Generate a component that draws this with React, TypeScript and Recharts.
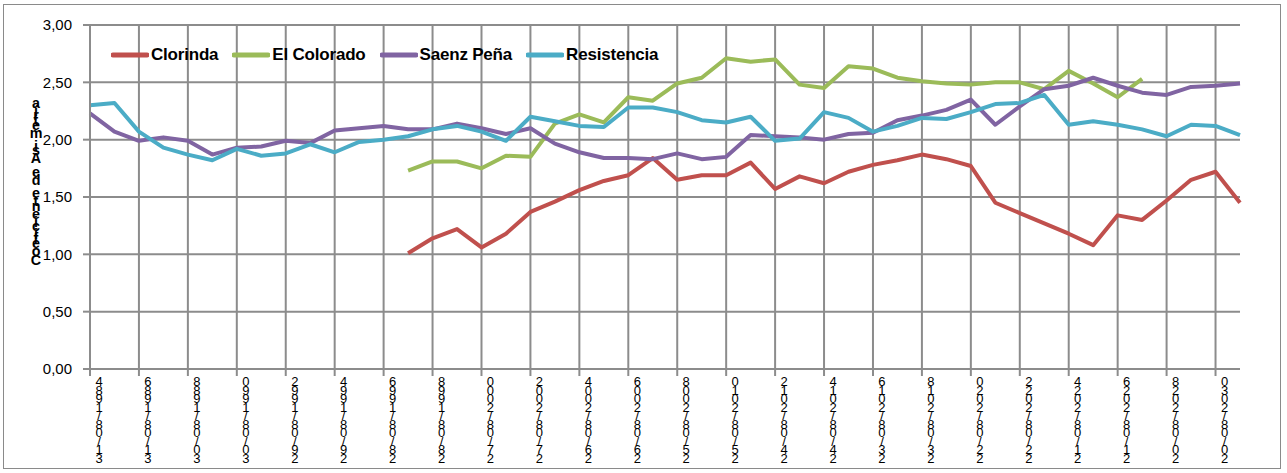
import React from 'react';
import { LineChart, Line, XAxis, YAxis, CartesianGrid, Legend } from 'recharts';

// fechas de medición (una por año)
const fechas = [
  '31/08/1984', '31/08/1985', '31/08/1986', '31/08/1987', '30/08/1988', '30/08/1989',
  '30/08/1990', '30/08/1991', '29/08/1992', '29/08/1993', '29/08/1994', '29/08/1995',
  '28/08/1996', '28/08/1997', '28/08/1998', '28/08/1999', '27/08/2000', '27/08/2001',
  '27/08/2002', '27/08/2003', '26/08/2004', '26/08/2005', '26/08/2006', '26/08/2007',
  '25/08/2008', '25/08/2009', '25/08/2010', '25/08/2011', '24/08/2012', '24/08/2013',
  '24/08/2014', '24/08/2015', '23/08/2016', '23/08/2017', '23/08/2018', '23/08/2019',
  '22/08/2020', '22/08/2021', '22/08/2022', '22/08/2023', '21/08/2024', '21/08/2025',
  '21/08/2026', '21/08/2027', '20/08/2028', '20/08/2029', '20/08/2030', '20/08/2031',
];

const N = null;

const clorinda = [
  N, N, N, N, N, N, N, N, N, N, N, N, N,
  1.01, 1.14, 1.22, 1.06, 1.18, 1.37, 1.46, 1.56, 1.64, 1.69,
  1.84, 1.65, 1.69, 1.69, 1.80, 1.57, 1.68, 1.62, 1.72, 1.78,
  1.82, 1.87, 1.83, 1.77, 1.45, 1.36, 1.27, 1.18, 1.08, 1.34,
  1.30, 1.47, 1.65, 1.72, 1.45,
];

const elColorado = [
  N, N, N, N, N, N, N, N, N, N, N, N, N,
  1.73, 1.81, 1.81, 1.75, 1.86, 1.85, 2.14, 2.22, 2.15, 2.37,
  2.34, 2.49, 2.54, 2.71, 2.68, 2.70, 2.48, 2.45, 2.64, 2.62,
  2.54, 2.51, 2.49, 2.48, 2.50, 2.50, 2.44, 2.60, 2.49, 2.37,
  2.53, N, N, N, N,
];

const saenzPena = [
  2.23, 2.07, 1.99, 2.02, 1.99, 1.87, 1.93, 1.94, 1.99, 1.97,
  2.08, 2.10, 2.12, 2.09, 2.09, 2.14, 2.10, 2.05, 2.10, 1.965,
  1.89, 1.84, 1.84, 1.83, 1.88, 1.83, 1.85, 2.04, 2.03, 2.02,
  2.00, 2.05, 2.06, 2.17, 2.21, 2.26, 2.35, 2.13, 2.29, 2.44,
  2.47, 2.54, 2.47, 2.41, 2.39, 2.46, 2.47, 2.49,
];

const resistencia = [
  2.30, 2.32, 2.07, 1.93, 1.87, 1.82, 1.92, 1.86, 1.88, 1.96,
  1.89, 1.98, 2.00, 2.03, 2.09, 2.12, 2.07, 1.99, 2.20, 2.16,
  2.12, 2.11, 2.28, 2.28, 2.24, 2.17, 2.15, 2.20, 1.99, 2.01,
  2.24, 2.19, 2.07, 2.12, 2.19, 2.18, 2.24, 2.31, 2.32, 2.39,
  2.13, 2.16, 2.13, 2.09, 2.03, 2.13, 2.12, 2.04,
];

const yTicks = [0, 0.5, 1, 1.5, 2, 2.5, 3];
const yTitle = 'Coeficiente de Asimetría';

const series = [
  { key: 'clorinda', name: 'Clorinda', color: '#C0504D' },
  { key: 'colorado', name: 'El Colorado', color: '#9BBB59' },
  { key: 'saenz', name: 'Saenz Peña', color: '#8064A2' },
  { key: 'resistencia', name: 'Resistencia', color: '#4BACC6' },
];

const data = fechas.map((fecha, i) => ({
  fecha,
  clorinda: clorinda[i],
  colorado: elColorado[i],
  saenz: saenzPena[i],
  resistencia: resistencia[i],
}));

const FONT = '"Liberation Sans", Arial, sans-serif';
const GRID = '#8c8c8c';

// arial bold advance widths (em) for the stacked axis title
const BOLD_W: Record<string, number> = {
  a: 0.556, 'í': 0.278, r: 0.389, t: 0.333, e: 0.556, m: 0.889, i: 0.278,
  s: 0.556, A: 0.722, ' ': 0.278, d: 0.611, n: 0.611, c: 0.556, f: 0.333,
  o: 0.611, C: 0.722,
};

function FechaTick(props: any) {
  const { x, y, payload } = props;
  const chars = String(payload.value).split('').reverse();
  return (
    <text x={x + 9} y={y} textAnchor="middle" fontFamily={FONT} fontSize={13} fill="#000">
      {chars.map((c, k) => (
        <tspan key={k} x={x + 9} dy={k === 0 ? 8.3 : 8.5}>
          {c}
        </tspan>
      ))}
    </text>
  );
}

function YTitle() {
  const chars = yTitle.split('').reverse();
  const size = 14.3;
  let prev = 0;
  return (
    <text x={36} y={97} textAnchor="middle" fontFamily={FONT} fontSize={size} fontWeight="bold" fill="#000">
      {chars.map((c, k) => {
        const dy = k === 0 ? 11 : prev;
        prev = (BOLD_W[c] ?? 0.556) * size;
        return (
          <tspan key={k} x={36} dy={dy}>
            {c}
          </tspan>
        );
      })}
    </text>
  );
}

function renderLegend() {
  return (
    <div style={{ display: 'flex', alignItems: 'center', fontFamily: FONT }}>
      {series.map((s) => (
        <div key={s.key} style={{ display: 'flex', alignItems: 'center', marginRight: 14 }}>
          <svg width={38} height={8}>
            <line x1={2} y1={4} x2={36} y2={4} stroke={s.color} strokeWidth={5} strokeLinecap="round" />
          </svg>
          <span
            style={{
              marginLeft: 2,
              fontSize: 17,
              fontWeight: 'bold',
              letterSpacing: -0.2,
              color: '#000',
              whiteSpace: 'nowrap',
            }}
          >
            {s.name}
          </span>
        </div>
      ))}
    </div>
  );
}

export default function App() {
  return (
    <div style={{ position: 'relative', width: 1287, height: 473, background: '#fff' }}>
      <style>{'body{margin:0;background:#fff}'}</style>
      <div
        style={{
          position: 'absolute',
          left: 3,
          top: 4,
          width: 1278,
          height: 465,
          border: '1px solid #8a8a8a',
          boxSizing: 'border-box',
        }}
      />
      <LineChart
        width={1287}
        height={473}
        data={data}
        margin={{ top: 25, right: 47, bottom: 4, left: 30 }}
      >
        <CartesianGrid
          stroke={GRID}
          strokeWidth={2}
          verticalCoordinatesGenerator={({ offset }: any) =>
            fechas
              .map((_, i) => i)
              .filter((i) => i % 2 === 0)
              .map((i) => offset.left + (i * offset.width) / (fechas.length - 1))
          }
        />
        <XAxis
          dataKey="fecha"
          interval={1}
          height={100}
          tickSize={7}
          tickMargin={2}
          stroke={GRID}
          strokeWidth={2}
          tick={<FechaTick />}
        />
        <YAxis
          width={60}
          domain={[0, 3]}
          ticks={yTicks}
          tickSize={7}
          tickMargin={11}
          stroke={GRID}
          strokeWidth={2}
          tick={{ fill: '#000', fontSize: 15, fontFamily: FONT }}
          tickFormatter={(v: number) => v.toFixed(2).replace('.', ',')}
          label={{ content: <YTitle /> }}
        />
        <Legend
          layout="horizontal"
          verticalAlign="middle"
          align="center"
          content={renderLegend}
          wrapperStyle={{ position: 'absolute', top: 45, left: 111, width: 'auto' }}
        />
        {series.map((s) => (
          <Line
            key={s.key}
            type="linear"
            dataKey={s.key}
            name={s.name}
            stroke={s.color}
            strokeWidth={4}
            strokeLinejoin="round"
            dot={false}
            activeDot={false}
            connectNulls={false}
            isAnimationActive={false}
          />
        ))}
      </LineChart>
    </div>
  );
}
